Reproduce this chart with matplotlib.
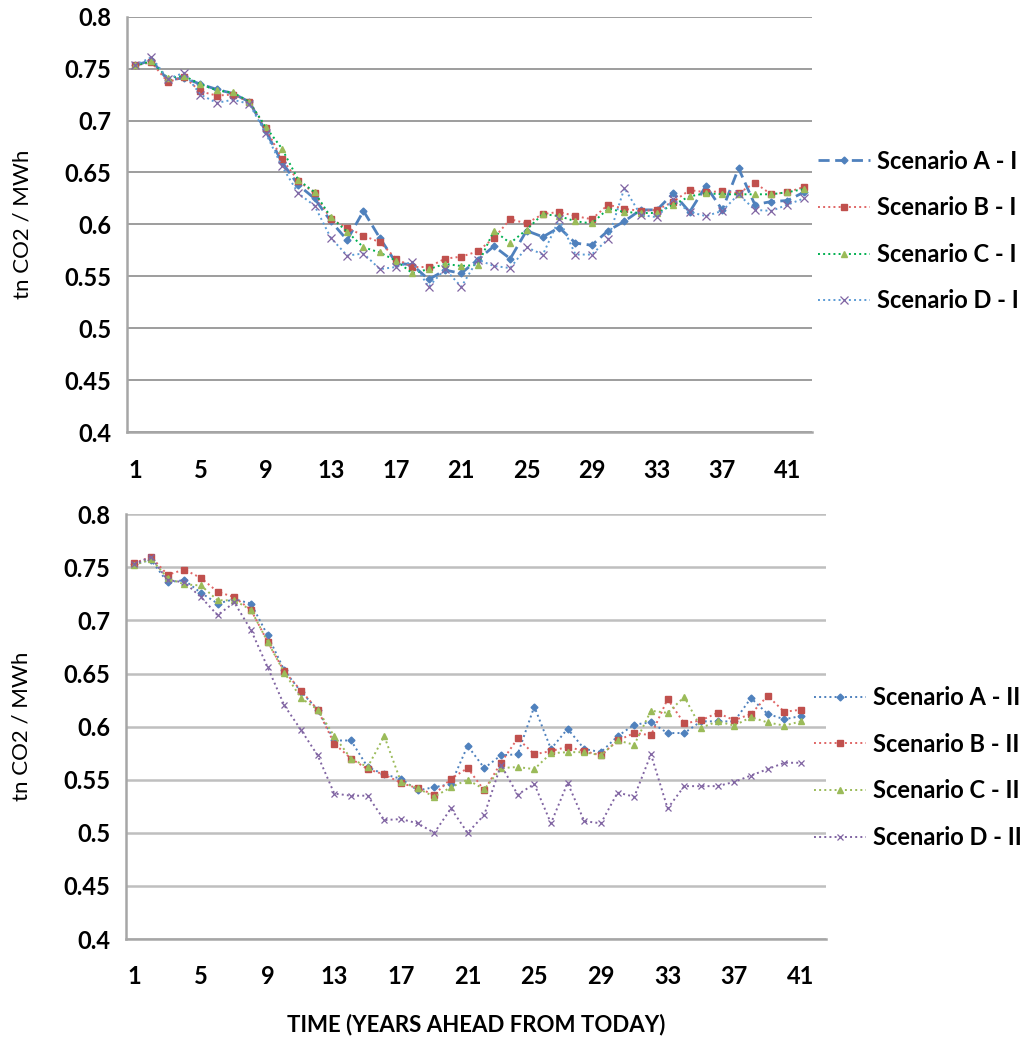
import matplotlib
matplotlib.use("Agg")
import matplotlib.pyplot as plt
import numpy as np

plt.rcParams['font.family'] = ['Lato', 'DejaVu Sans']

years = list(range(1, 43))
tick_years = list(range(1, 42, 4))
y_ticks = [0.4, 0.45, 0.5, 0.55, 0.6, 0.65, 0.7, 0.75, 0.8]

# panel I (42 years)
top_a = [0.753, 0.758, 0.739, 0.741, 0.735, 0.730, 0.726, 0.718, 0.690, 0.660,
         0.638, 0.625, 0.603, 0.585, 0.613, 0.587, 0.563, 0.561, 0.547, 0.556,
         0.553, 0.566, 0.579, 0.567, 0.594, 0.588, 0.597, 0.582, 0.580, 0.594,
         0.603, 0.614, 0.614, 0.630, 0.612, 0.637, 0.614, 0.654, 0.619, 0.622,
         0.623, 0.631]
top_b = [0.753, 0.756, 0.737, 0.742, 0.728, 0.724, 0.725, 0.718, 0.693, 0.663,
         0.642, 0.630, 0.605, 0.597, 0.589, 0.583, 0.567, 0.559, 0.559, 0.567,
         0.569, 0.574, 0.587, 0.605, 0.601, 0.610, 0.612, 0.608, 0.605, 0.619,
         0.615, 0.613, 0.614, 0.622, 0.633, 0.631, 0.632, 0.630, 0.640, 0.629,
         0.631, 0.636]
top_c = [0.753, 0.757, 0.741, 0.743, 0.735, 0.729, 0.727, 0.718, 0.694, 0.673,
         0.643, 0.631, 0.607, 0.593, 0.578, 0.573, 0.565, 0.553, 0.557, 0.562,
         0.560, 0.561, 0.594, 0.582, 0.595, 0.610, 0.608, 0.603, 0.601, 0.615,
         0.612, 0.611, 0.611, 0.619, 0.627, 0.630, 0.629, 0.629, 0.629, 0.629,
         0.631, 0.634]
top_d = [0.753, 0.761, 0.740, 0.746, 0.725, 0.717, 0.720, 0.716, 0.688, 0.656,
         0.630, 0.618, 0.587, 0.570, 0.572, 0.557, 0.559, 0.564, 0.540, 0.557,
         0.540, 0.566, 0.560, 0.558, 0.578, 0.571, 0.605, 0.571, 0.571, 0.586,
         0.635, 0.609, 0.607, 0.624, 0.612, 0.608, 0.613, 0.629, 0.614, 0.613,
         0.619, 0.625]

# panel II (41 years)
bot_a = [0.753, 0.757, 0.736, 0.738, 0.726, 0.716, 0.720, 0.716, 0.686, 0.653,
         0.633, 0.616, 0.587, 0.587, 0.562, 0.555, 0.551, 0.540, 0.543, 0.546,
         0.582, 0.561, 0.573, 0.574, 0.619, 0.579, 0.598, 0.579, 0.576, 0.591,
         0.602, 0.604, 0.594, 0.594, 0.605, 0.605, 0.605, 0.627, 0.612, 0.607,
         0.610]
bot_b = [0.754, 0.760, 0.743, 0.748, 0.740, 0.727, 0.722, 0.710, 0.680, 0.652,
         0.634, 0.616, 0.584, 0.570, 0.560, 0.555, 0.547, 0.542, 0.536, 0.551,
         0.561, 0.540, 0.566, 0.589, 0.574, 0.577, 0.581, 0.577, 0.573, 0.587,
         0.594, 0.592, 0.626, 0.603, 0.606, 0.613, 0.606, 0.612, 0.629, 0.614,
         0.616]
bot_c = [0.752, 0.758, 0.740, 0.734, 0.733, 0.719, 0.719, 0.710, 0.680, 0.651,
         0.627, 0.616, 0.591, 0.570, 0.562, 0.591, 0.548, 0.542, 0.534, 0.543,
         0.550, 0.541, 0.561, 0.562, 0.560, 0.575, 0.576, 0.576, 0.573, 0.587,
         0.583, 0.615, 0.613, 0.628, 0.599, 0.605, 0.601, 0.609, 0.604, 0.601,
         0.605]
bot_d = [0.753, 0.760, 0.738, 0.736, 0.722, 0.705, 0.717, 0.691, 0.656, 0.620,
         0.597, 0.573, 0.537, 0.535, 0.535, 0.512, 0.513, 0.509, 0.500, 0.523,
         0.500, 0.517, 0.564, 0.536, 0.546, 0.509, 0.547, 0.511, 0.509, 0.538,
         0.534, 0.574, 0.523, 0.544, 0.544, 0.544, 0.548, 0.554, 0.560, 0.566,
         0.566]

blue = '#4F81BD'
red = '#C0504D'
green = '#9BBB59'
purple = '#8064A2'

fig = plt.figure(figsize=(10.30, 10.39), dpi=100)
ax1 = fig.add_axes([0.1233, 0.584, 0.6650, 0.400])
ax2 = fig.add_axes([0.1223, 0.0962, 0.6796, 0.4088])


def style_axes(ax, gridcol, gridlw, label_x):
    ax.set_xlim(0.5, 42.5)
    ax.set_ylim(0.4, 0.8)
    ax.set_yticks(y_ticks)
    ax.set_yticklabels(['%g' % v for v in y_ticks])
    ax.set_xticks(tick_years)
    ax.grid(axis='y', color=gridcol, lw=gridlw)
    ax.set_axisbelow(True)
    for s in ['top', 'right']:
        ax.spines[s].set_visible(False)
    for s in ['left', 'bottom']:
        ax.spines[s].set_color('#a6a6a6')
        ax.spines[s].set_linewidth(1.8)
    ax.tick_params(axis='y', length=0, pad=11, labelsize=17)
    ax.tick_params(axis='x', length=0, pad=19, labelsize=17)
    for lab in ax.get_xticklabels() + ax.get_yticklabels():
        lab.set_fontweight('bold')
    ax.set_ylabel('tn CO2 / MWh', fontsize=16)
    ax.yaxis.set_label_coords(label_x, 0.5)


n2 = len(bot_a)

ax1.plot(years, top_a, ls=(0, (4, 2)), lw=2.0, color=blue, marker='D', ms=3.5,
         label='Scenario A - I')
ax1.plot(years, top_b, ls=':', lw=1.4, color='#E06666', marker='s', ms=5,
         mfc=red, mec=red, label='Scenario B - I')
ax1.plot(years, top_c, ls=':', lw=1.4, color='#00B050', marker='^', ms=5,
         mfc=green, mec=green, label='Scenario C - I')
ax1.plot(years, top_d, ls=':', lw=1.4, color='#5B9BD5', marker='x', ms=6,
         mfc=purple, mec=purple, mew=0.9, label='Scenario D - I')
style_axes(ax1, '#8c8c8c', 1.2, -0.138)

ax2.plot(years[:n2], bot_a, ls=':', lw=1.4, color=blue, marker='D', ms=3.5,
         label='Scenario A - II')
ax2.plot(years[:n2], bot_b, ls=':', lw=1.4, color='#E06666', marker='s', ms=5,
         mfc=red, mec=red, label='Scenario B - II')
ax2.plot(years[:n2], bot_c, ls=':', lw=1.4, color=green, marker='^', ms=5,
         label='Scenario C - II')
ax2.plot(years[:n2], bot_d, ls=':', lw=1.4, color=purple, marker='x', ms=5,
         mew=0.9, label='Scenario D - II')
style_axes(ax2, '#bfbfbf', 1.8, -0.135)
ax2.set_xlabel('TIME (YEARS AHEAD FROM TODAY)', fontsize=16, fontweight='bold',
               labelpad=18)

leg_kw = dict(loc='center left', bbox_transform=fig.transFigure, frameon=False,
              prop={'size': 17, 'weight': 'bold'}, handlelength=2.2,
              handletextpad=0.3, labelspacing=1.0, borderpad=0)
ax1.legend(bbox_to_anchor=(0.783, 0.7777), **leg_kw)
ax2.legend(bbox_to_anchor=(0.779, 0.2613), **leg_kw)

fig.savefig('out.png', dpi=100)
